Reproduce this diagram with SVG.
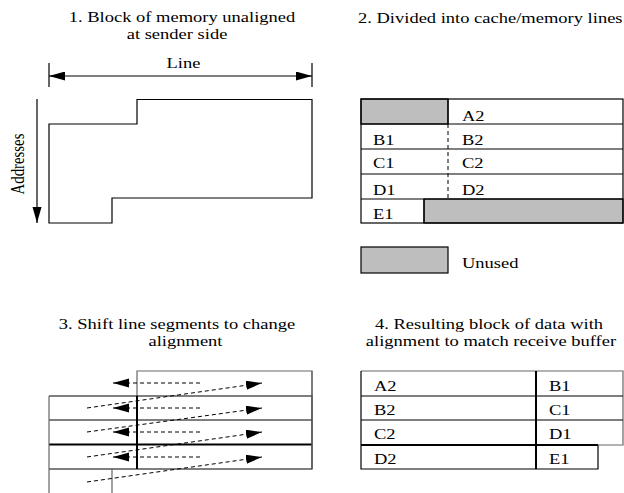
<svg xmlns="http://www.w3.org/2000/svg" width="624" height="493" viewBox="0 0 624 493">
<style>
text{font-family:"Liberation Serif","Times New Roman",serif;font-size:18.5px;fill:#000}
.m{text-anchor:middle}
.ln{stroke:#000;stroke-width:1.2;fill:none}
.gl{stroke:#666;stroke-width:1.2;fill:none}
.tk{stroke:#000;stroke-width:2;fill:none}
.gr{fill:#bebebe;stroke:#000;stroke-width:1.2}
.da{stroke:#000;stroke-width:1;stroke-dasharray:4,3;fill:none}
</style>
<defs>
<marker id="ah" markerUnits="userSpaceOnUse" markerWidth="17" markerHeight="10" refX="16" refY="4.5" orient="auto"><path d="M0,0L16,4.5L0,9Z" fill="#000"/></marker>
<marker id="as" markerUnits="userSpaceOnUse" markerWidth="17" markerHeight="10" refX="0" refY="4.5" orient="auto"><path d="M16,0L0,4.5L16,9Z" fill="#000"/></marker>
</defs>

<g id="panel1">
<text class="m" transform="translate(182,21.5) scale(1,0.8)">1. Block of memory unaligned</text>
<text class="m" transform="translate(177,38.5) scale(1,0.8)">at sender side</text>
<text class="m" transform="translate(183.5,68) scale(1,0.8)">Line</text>
<path class="ln" d="M49,63V87M312,63V87"/>
<path class="ln" d="M137,99.5H312V198H112V223H49V124H137Z"/>
<text class="m" transform="translate(24,164) scale(1,0.8) rotate(-90)">Addresses</text>
</g>

<g id="panel2">
<text transform="translate(358,22.5) scale(1,0.8)">2. Divided into cache/memory lines</text>
<rect class="gr" x="361" y="99" width="87" height="25"/>
<rect class="gr" x="424" y="199" width="199" height="24"/>
<rect class="ln" x="361" y="99" width="262" height="124"/>
<path class="ln" d="M361,124H623M361,149H623M361,174H623M361,199H623M448,99V124M424,199V223"/>
<path class="da" d="M448,124V199"/>
<text transform="translate(462,120.5) scale(1,0.8)">A2</text>
<text transform="translate(373,145) scale(1,0.8)">B1</text>
<text transform="translate(462,145) scale(1,0.8)">B2</text>
<text transform="translate(373,168) scale(1,0.8)">C1</text>
<text transform="translate(462,168) scale(1,0.8)">C2</text>
<text transform="translate(373,195) scale(1,0.8)">D1</text>
<text transform="translate(462,195) scale(1,0.8)">D2</text>
<text transform="translate(373,218.5) scale(1,0.8)">E1</text>
</g>

<g id="legend">
<rect class="gr" x="361" y="247" width="87" height="26"/>
<text transform="translate(462,268) scale(1,0.8)">Unused</text>
</g>

<g id="panel3">
<text class="m" transform="translate(177,329) scale(1,0.8)">3. Shift line segments to change</text>
<text class="m" transform="translate(185.5,345.5) scale(1,0.8)">alignment</text>
<path class="gl" d="M137,396V371H312V396"/>
<path class="ln" d="M49,396H312V469H49M49,420H312"/>
<path class="tk" d="M49,444.5H312M137,396V469"/>
<path class="gl" d="M49,396V493M112,469V493M312,371V469"/>
</g>

<g id="panel4">
<text class="m" transform="translate(489,329) scale(1,0.8)">4. Resulting block of data with</text>
<text class="m" transform="translate(491,346) scale(1,0.8)">alignment to match receive buffer</text>
<path class="gl" d="M361,371H623V445H598"/>
<path class="ln" d="M361,371V469H598V445M361,396H623M361,420H623"/>
<path class="tk" d="M361,445H598M536,371V469"/>
<text transform="translate(374,391) scale(1,0.8)">A2</text>
<text transform="translate(549,391) scale(1,0.8)">B1</text>
<text transform="translate(374,414.5) scale(1,0.8)">B2</text>
<text transform="translate(549,414.5) scale(1,0.8)">C1</text>
<text transform="translate(374,439) scale(1,0.8)">C2</text>
<text transform="translate(549,439) scale(1,0.8)">D1</text>
<text transform="translate(374,464) scale(1,0.8)">D2</text>
<text transform="translate(549,464) scale(1,0.8)">E1</text>
</g>

<g id="connectors">
<path class="ln" d="M49,76H312" marker-start="url(#as)" marker-end="url(#ah)"/>
<path class="ln" d="M37,99V223" marker-end="url(#ah)"/>
<path class="da" d="M200,383H113" marker-end="url(#ah)"/>
<path class="da" d="M200,408H113" marker-end="url(#ah)"/>
<path class="da" d="M200,432H113" marker-end="url(#ah)"/>
<path class="da" d="M200,457H113" marker-end="url(#ah)"/>
<path class="da" d="M87,408L262,383" marker-end="url(#ah)"/>
<path class="da" d="M87,432L262,408" marker-end="url(#ah)"/>
<path class="da" d="M87,457L262,432" marker-end="url(#ah)"/>
<path class="da" d="M87,482L262,457" marker-end="url(#ah)"/>
</g>
</svg>
